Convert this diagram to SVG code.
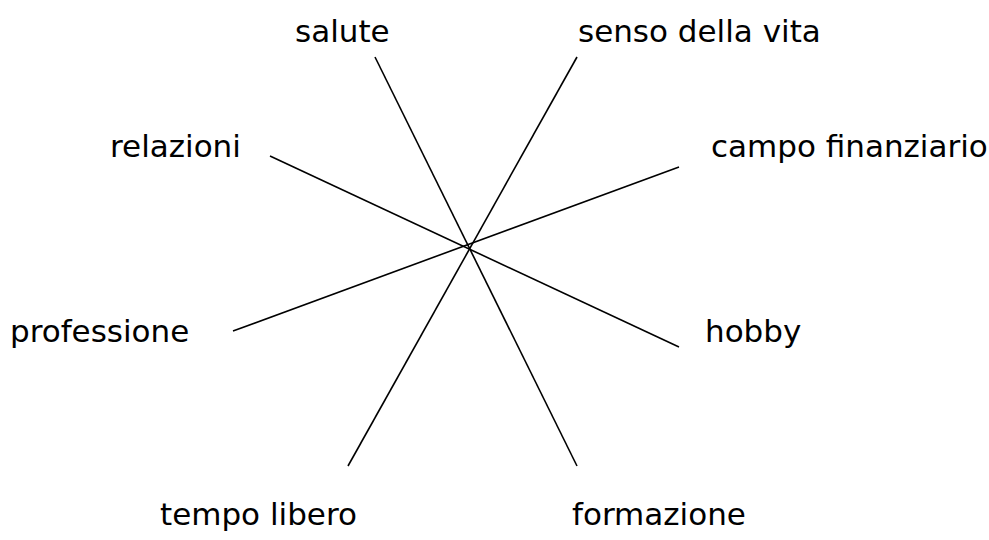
<svg xmlns="http://www.w3.org/2000/svg" width="989" height="540" viewBox="0 0 989 540">
<style>
text{font-family:"DejaVu Sans",Verdana,sans-serif;font-size:31px;fill:#000}
line{stroke:#000;stroke-width:1.6;fill:none}
</style>
<rect width="989" height="540" fill="#fff"/>
<g id="connectors">
<line x1="375" y1="57" x2="577" y2="466"/>
<line x1="577" y1="57" x2="348" y2="466"/>
<line x1="270" y1="156" x2="679" y2="347"/>
<line x1="679" y1="167" x2="233" y2="331"/>
</g>
<g id="salute"><text x="295" y="42">salute</text></g>
<g id="senso"><text x="578" y="42">senso della vita</text></g>
<g id="relazioni"><text x="110" y="157">relazioni</text></g>
<g id="campo"><text x="711" y="157">campo finanziario</text></g>
<g id="professione"><text x="10" y="342">professione</text></g>
<g id="hobby"><text x="705" y="342">hobby</text></g>
<g id="tempo"><text x="160" y="525">tempo libero</text></g>
<g id="formazione"><text x="572" y="525">formazione</text></g>
</svg>
